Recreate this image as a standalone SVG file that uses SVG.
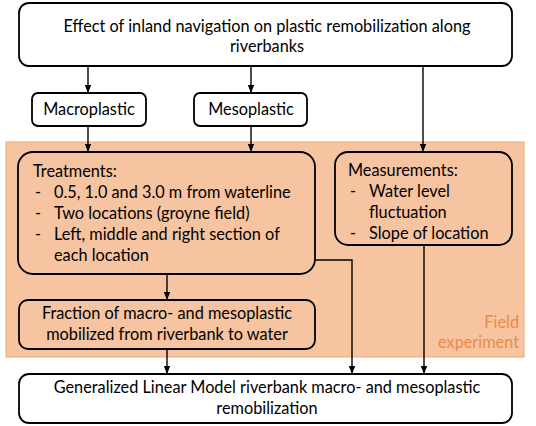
<svg xmlns="http://www.w3.org/2000/svg" width="536" height="426" viewBox="0 0 536 426">
<defs>
<marker id="ah" markerUnits="userSpaceOnUse" markerWidth="8" markerHeight="8" viewBox="0 0 8 8" refX="8" refY="4" orient="auto">
<path d="M0,0.8 L8,4 L0,7.2 Z" fill="#000"/>
</marker>
<style>
.box{fill:#fff;stroke:#000;stroke-width:1.8}
.obox{fill:#F6C4A0;stroke:#000;stroke-width:1.8}
.t{font-family:Lato,"Liberation Sans",sans-serif;font-size:16.3px;fill:#000}
.c{text-anchor:middle}
.or{fill:#EE8A48;text-anchor:end}
.ln{fill:none;stroke:#000;stroke-width:1.4}
.arr{marker-end:url(#ah)}
</style>
</defs>
<rect x="6" y="142" width="518" height="215" fill="#F6C4A0" stroke="#EBA779" stroke-width="1"/>
<text class="t or" x="519" y="328">Field</text>
<text class="t or" x="519" y="348">experiment</text>

<g id="connectors">
<line class="ln arr" x1="88" y1="66" x2="88" y2="93"/>
<line class="ln arr" x1="251" y1="66" x2="251" y2="93"/>
<line class="ln arr" x1="423" y1="66" x2="423" y2="152"/>
<line class="ln arr" x1="88" y1="126" x2="88" y2="152"/>
<line class="ln arr" x1="251" y1="126" x2="251" y2="152"/>
<polyline class="ln arr" points="315,260 352,260 352,374"/>
<line class="ln arr" x1="167" y1="274" x2="167" y2="300"/>
<line class="ln arr" x1="167" y1="349" x2="167" y2="374"/>
<line class="ln arr" x1="424" y1="245" x2="424" y2="374"/>
</g>

<g id="top">
<rect class="box" x="19" y="3" width="493" height="63" rx="10"/>
<text class="t c" x="267" y="32">Effect of inland navigation on plastic remobilization along</text>
<text class="t c" x="267" y="52">riverbanks</text>
</g>
<g id="macro">
<rect class="box" x="32" y="93" width="114" height="33" rx="6"/>
<text class="t c" x="89" y="115">Macroplastic</text>
</g>
<g id="meso">
<rect class="box" x="194" y="93" width="113" height="33" rx="6"/>
<text class="t c" x="251" y="115">Mesoplastic</text>
</g>
<g id="treatments">
<rect class="obox" x="18" y="152" width="297" height="122" rx="15"/>
<text class="t" x="33" y="177">Treatments:</text>
<text class="t" x="35" y="198">-</text><text class="t" x="54" y="198">0.5, 1.0 and 3.0 m from waterline</text>
<text class="t" x="35" y="219">-</text><text class="t" x="54" y="219">Two locations (groyne field)</text>
<text class="t" x="35" y="240">-</text><text class="t" x="54" y="240">Left, middle and right section of</text>
<text class="t" x="54" y="261">each location</text>
</g>
<g id="measurements">
<rect class="obox" x="335" y="152" width="177" height="93" rx="13"/>
<text class="t" x="348" y="176">Measurements:</text>
<text class="t" x="350" y="197">-</text><text class="t" x="369" y="197">Water level</text>
<text class="t" x="369" y="218">fluctuation</text>
<text class="t" x="350" y="239">-</text><text class="t" x="369" y="239">Slope of location</text>
</g>
<g id="fraction">
<rect class="obox" x="19" y="300" width="296" height="49" rx="9"/>
<text class="t c" x="167" y="319">Fraction of macro- and mesoplastic</text>
<text class="t c" x="167" y="340">mobilized from riverbank to water</text>
</g>
<g id="glm">
<rect class="box" x="19" y="374" width="493" height="49" rx="10"/>
<text class="t c" x="267" y="393">Generalized Linear Model riverbank macro- and mesoplastic</text>
<text class="t c" x="267" y="414">remobilization</text>
</g>
</svg>
